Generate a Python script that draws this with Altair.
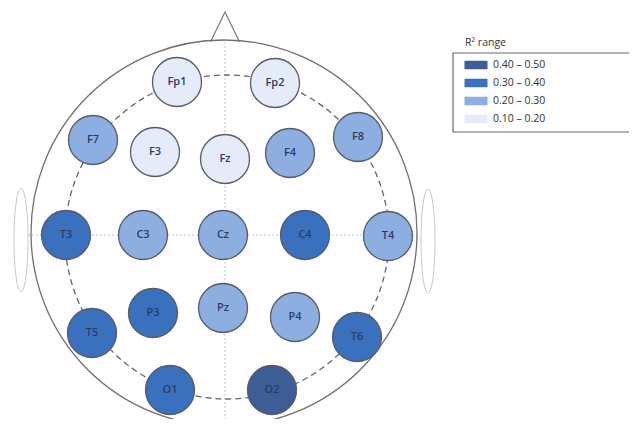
import altair as alt
import pandas as pd

# ---- data ----
electrodes = ["Fp1", "Fp2", "F7", "F3", "Fz", "F4", "F8",
              "T3", "C3", "Cz", "C4", "T4",
              "T5", "P3", "Pz", "P4", "T6", "O1", "O2"]
# electrode positions on the head map (head centre = 0,0; y up)
pos_x = [-47, 51, -131, -69, 1, 66, 134,
         -158, -81, -1, 81, 164,
         -132, -71, -1, 71, 133, -54, 48]
pos_y = [152, 151, 94, 82, 75, 81, 97,
         -1, -1, -1, -1, -2,
         -99, -79, -74, -83, -103, -156, -156]
r2_range = ["0.10 – 0.20", "0.10 – 0.20", "0.20 – 0.30", "0.10 – 0.20", "0.10 – 0.20", "0.20 – 0.30", "0.20 – 0.30",
            "0.30 – 0.40", "0.20 – 0.30", "0.20 – 0.30", "0.30 – 0.40", "0.20 – 0.30",
            "0.30 – 0.40", "0.30 – 0.40", "0.20 – 0.30", "0.20 – 0.30", "0.30 – 0.40", "0.30 – 0.40", "0.40 – 0.50"]
ranges = ["0.40 – 0.50", "0.30 – 0.40", "0.20 – 0.30", "0.10 – 0.20"]
range_colors = ["#3c5d95", "#3a71bf", "#8daee0", "#e3ecf8"]

df = pd.DataFrame({"electrode": electrodes, "x": pos_x, "y": pos_y, "range": r2_range})
legend_df = pd.DataFrame({"range": ranges})

# ---- layout / styling ----
W, H = 621, 411
xs = alt.Scale(domain=[-216, 405], nice=False, zero=False)
ys = alt.Scale(domain=[-185, 226], nice=False, zero=False)
color_scale = alt.Scale(domain=ranges, range=range_colors)

head = pd.DataFrame({"x": [0], "y": [1]})
inner = pd.DataFrame({"x": [3], "y": [-3]})
ears = pd.DataFrame({"x": [-203, 204], "y": [-6, -7]})
nose = pd.DataFrame({"x": [1], "y": [207]})
cross = pd.DataFrame({"x": [1, -196], "y": [192, -1], "x2": [1, 196], "y2": [-189, -1]})

X = lambda: alt.X("x:Q", scale=xs, axis=None)
Y = lambda: alt.Y("y:Q", scale=ys, axis=None)

cross_l = alt.Chart(cross).mark_rule(color="#c4c4c4", strokeDash=[2, 2], strokeWidth=1).encode(
    x=X(), y=Y(), x2="x2:Q", y2="y2:Q")

head_l = alt.Chart(head).mark_point(shape="circle", size=386 ** 2, filled=False, stroke="#707070",
                                    strokeWidth=1.3, opacity=1).encode(x=X(), y=Y())
inner_l = alt.Chart(inner).mark_point(shape="circle", size=324 ** 2, filled=False, stroke="#666666",
                                      strokeWidth=1.3, strokeDash=[6, 4], opacity=1).encode(x=X(), y=Y())
ears_l = alt.Chart(ears).mark_point(shape="M0,-1A0.135,1 0 1,1 0,1A0.135,1 0 1,1 0,-1Z", size=104 ** 2,
                                    filled=False, stroke="#c8c8c8", strokeWidth=1, opacity=1).encode(x=X(), y=Y())
nose_l = alt.Chart(nose).mark_point(shape="M-0.97,1L0,-1L0.97,1", size=900, filled=False,
                                    stroke="#777777", strokeWidth=1.2, opacity=1).encode(x=X(), y=Y())

elec_l = alt.Chart(df).mark_point(shape="circle", size=49 ** 2, filled=True, stroke="#565c68",
                                  strokeWidth=1.3, opacity=1).encode(
    x=X(), y=Y(), fill=alt.Fill("range:N", scale=color_scale, legend=None))
text_l = alt.Chart(df).mark_text(font="Open Sans", fontSize=11, fontWeight=600, color="#2b3d66").encode(
    x=X(), y=Y(), text="electrode:N")

head_map = alt.layer(cross_l, head_l, inner_l, ears_l, nose_l, elec_l, text_l)

# legend
ly = alt.Y("range:N", scale=alt.Scale(domain=ranges, range=[57, 111], padding=0), axis=None)
box_l = alt.Chart(pd.DataFrame({"k": [0]})).mark_rect(fill="white", fillOpacity=0, stroke="#6a6a6a",
                                                        strokeWidth=1.2).encode(
    x=alt.value(445), x2=alt.value(625), y=alt.value(45), y2=alt.value(124))
title_l = alt.Chart(pd.DataFrame({"t": ["R² range"]})).mark_text(
    font="Open Sans", fontSize=10.5, color="#333333", align="left", baseline="middle").encode(
    x=alt.value(457), y=alt.value(35), text="t:N")
sw_l = alt.Chart(legend_df).mark_point(shape="M-1,-0.37H1V0.37H-1Z", size=23 ** 2, filled=True,
                                       opacity=1, strokeWidth=0).encode(
    x=alt.value(468), y=ly, fill=alt.Fill("range:N", scale=color_scale, legend=None))
lab_l = alt.Chart(legend_df).mark_text(font="Open Sans", fontSize=10.5, color="#333333",
                                       align="left", baseline="middle").encode(
    x=alt.value(485), y=ly, text="range:N")
legend = alt.layer(box_l, title_l, sw_l, lab_l)

chart = alt.layer(head_map, legend).resolve_scale(x="independent", y="independent").properties(
    width=W, height=H, padding=0, autosize=alt.AutoSizeParams(type="none"),
    background="white"
).configure_view(stroke=None)

chart.save("out.html", embed_options={"renderer": "svg", "actions": False})
